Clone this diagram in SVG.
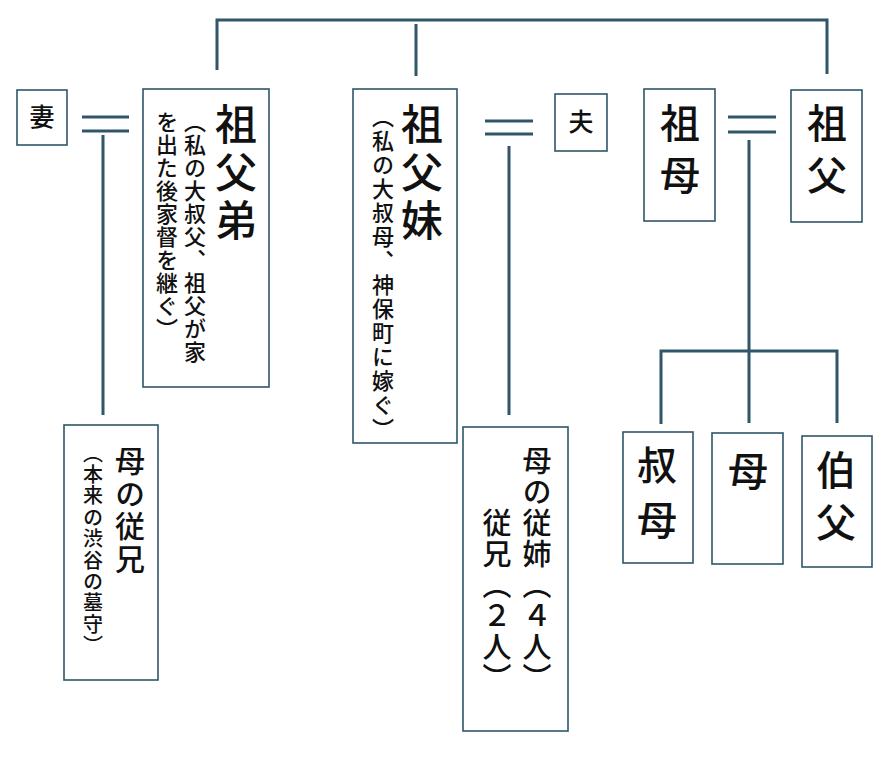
<svg xmlns="http://www.w3.org/2000/svg" width="889" height="763" viewBox="0 0 889 763">
<style>
.bg{fill:#ffffff}
.box{fill:#ffffff;stroke:#2f5669;stroke-width:1.6}
.ln{stroke:#2f5669;stroke-width:3;fill:none;stroke-linecap:butt}
.t{font-family:"Noto Sans CJK JP","Noto Sans CJK SC",sans-serif;fill:#111111;font-weight:500}
.v{writing-mode:vertical-rl;text-orientation:mixed}
.big{font-size:42px;letter-spacing:6px}
.sub{font-size:22px;letter-spacing:1px}
.h{font-size:25px;text-anchor:middle}
</style>
<rect class="bg" x="0" y="0" width="889" height="763"/>
<g id="connectors">
  <polyline class="ln" points="217,70 217,20 827,20 827,74"/>
  <line class="ln" x1="416" y1="24" x2="416" y2="76"/>
  <line class="ln" x1="82" y1="117" x2="129" y2="117"/>
  <line class="ln" x1="82" y1="131" x2="129" y2="131"/>
  <line class="ln" x1="103" y1="135" x2="103" y2="415"/>
  <line class="ln" x1="485" y1="121" x2="533" y2="121"/>
  <line class="ln" x1="485" y1="134" x2="533" y2="134"/>
  <line class="ln" x1="509" y1="146" x2="509" y2="415"/>
  <line class="ln" x1="728" y1="117" x2="776" y2="117"/>
  <line class="ln" x1="728" y1="132" x2="776" y2="132"/>
  <line class="ln" x1="749" y1="140" x2="749" y2="423"/>
  <polyline class="ln" points="661,424 661,351 837,351 837,423"/>
</g>
<g id="tsuma">
  <rect class="box" x="17" y="90" width="50" height="55"/>
  <text class="t h" x="42" y="126">妻</text>
</g>
<g id="sofu-otouto">
  <rect class="box" x="143" y="89" width="126" height="298"/>
  <text class="t v big" x="236" y="103">祖父弟</text>
  <text class="t v sub" x="195" y="111">（私の大叔父、祖父が家</text>
  <text class="t v sub" x="167" y="111">を出た後家督を継ぐ）</text>
</g>
<g id="sofu-imouto">
  <rect class="box" x="353" y="89" width="104" height="354"/>
  <text class="t v big" x="422" y="103">祖父妹</text>
  <text class="t v sub" x="383" y="106" style="letter-spacing:2px">（私の大叔母、神保町に嫁ぐ）</text>
</g>
<g id="otto">
  <rect class="box" x="555" y="94" width="52" height="57"/>
  <text class="t h" x="581" y="131">夫</text>
</g>
<g id="sobo">
  <rect class="box" x="644" y="89" width="71" height="132"/>
  <text class="t v" x="680" y="103" style="font-size:40px;letter-spacing:12px">祖母</text>
</g>
<g id="sofu">
  <rect class="box" x="791" y="90" width="71" height="132"/>
  <text class="t v" x="827" y="103" style="font-size:40px;letter-spacing:12px">祖父</text>
</g>
<g id="haha-itoko-ani">
  <rect class="box" x="64" y="425" width="94" height="255"/>
  <text class="t v" x="130" y="446" style="font-size:30px;letter-spacing:2.5px">母の従兄</text>
  <text class="t v" x="93" y="443" style="font-size:20px;letter-spacing:1.4px">（本来の渋谷の墓守）</text>
</g>
<g id="haha-itoko-ane">
  <rect class="box" x="463" y="427" width="105" height="304"/>
  <text class="t v" x="537" y="446" style="font-size:29px;letter-spacing:2px">母の従姉（４人）</text>
  <text class="t v" x="497" y="508" style="font-size:29px;letter-spacing:2px">従兄（２人）</text>
</g>
<g id="oba">
  <rect class="box" x="623" y="432" width="70" height="131"/>
  <text class="t v" x="657" y="445" style="font-size:40px;letter-spacing:15px">叔母</text>
</g>
<g id="haha">
  <rect class="box" x="712" y="433" width="71" height="131"/>
  <text class="t v" x="748" y="451" style="font-size:40px">母</text>
</g>
<g id="oji">
  <rect class="box" x="802" y="436" width="70" height="131"/>
  <text class="t v" x="836" y="450" style="font-size:40px;letter-spacing:12px">伯父</text>
</g>
</svg>
